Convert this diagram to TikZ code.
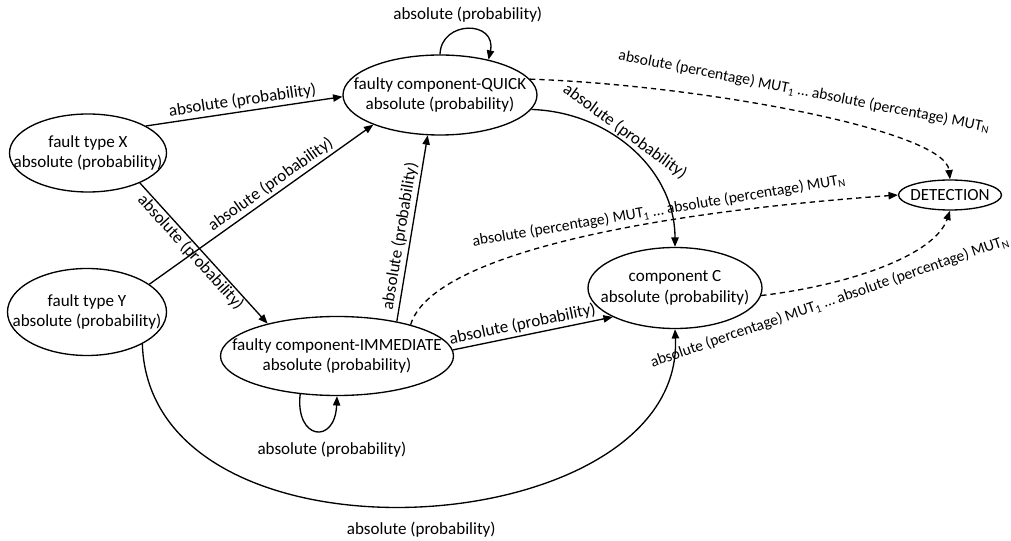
\documentclass[tikz,border=0pt]{standalone}
\usepackage{fontspec}
\setmainfont{Carlito}
\usetikzlibrary{shapes.geometric,arrows.meta}
\newcommand{\mutlabel}{absolute (percentage) MUT\textsubscript{1} … absolute (percentage) MUT\textsubscript{N}}
\begin{document}
\begin{tikzpicture}[x=0.75pt,y=-0.75pt,
  font=\fontsize{12.8}{15.5}\selectfont,
  state/.style={draw,ellipse,inner sep=0pt,line width=1pt},
  arr/.style={-{Triangle[length=7pt,width=5.5pt]},line width=1pt},
  darr/.style={arr,dash pattern=on 4pt off 3pt},
  lbl/.style={sloped,inner sep=2pt},
  mut/.style={font=\fontsize{11.7}{14}\selectfont}]
\useasboundingbox (0,0) rectangle (1011,541);

\node[state,minimum width=117.75pt,minimum height=58.5pt,label={[align=center]center:fault type X\\absolute (probability)}] (x) at (88,153) {};
\node[state,minimum width=119.25pt,minimum height=65.25pt,label={[align=center]center:fault type Y\\absolute (probability)}] (y) at (87,312) {};
\node[state,minimum width=145.5pt,minimum height=60pt,label={[align=center]center:faulty component-QUICK\\absolute (probability)}] (q) at (440,95) {};
\node[state,minimum width=174.75pt,minimum height=59.25pt,label={[align=center]center:faulty component-IMMEDIATE\\absolute (probability)}] (im) at (337,356) {};
\node[state,minimum width=130.5pt,minimum height=60.75pt,label={[align=center]center:component C\\absolute (probability)}] (c) at (675,288) {};
\node[state,minimum width=77.25pt,minimum height=22.5pt,label={center:DETECTION}] (d) at (950,195) {};

% solid edges
\draw[arr] (x.25) -- node[lbl,above] {absolute (probability)} (q.181);
\draw[arr] (y.24) -- node[lbl,above,pos=0.57] {absolute (probability)} (q.204);
\draw[arr] (x.-30) -- node[lbl,below=0pt,inner sep=0.5pt,pos=0.45] {absolute (probability)} (im.155);
\draw[arr] (im.30) -- node[lbl,above,pos=0.45] {absolute (probability)} (q.-107);
\draw[arr] (im.3) -- node[lbl,above,pos=0.45] {absolute (probability)} (c.205);
\draw[arr] (q.-9) .. controls (610,112) and (675,170) .. node[lbl,above,inner sep=1pt,pos=0.42] {absolute (probability)} (c.north);
\draw[arr] (q.90) .. controls (441,20) and (497,20) .. node[above=1.5pt] {absolute (probability)} (q.36);
\draw[arr] (im.226) .. controls (295,440) and (335,445) .. node[below=5pt,xshift=12pt] {absolute (probability)} (im.south);
\draw[arr] (y.-30) .. controls (150,580) and (685,545) .. node[below=8pt,xshift=4.5pt] {absolute (probability)} (c.south);

% dashed edges
\draw[darr] (q.10) .. controls (700,85) and (945,130) .. node[mut,above=7pt,rotate=-11,pos=0.5] {\mutlabel} (d.north);
\draw[darr] (im.23) .. controls (430,260) and (620,215) .. node[mut,lbl,above,inner sep=2.5pt,pos=0.68] {\mutlabel} (d.west);
\draw[darr] (c.-5) .. controls (850,285) and (935,255) .. node[mut,below=4pt,rotate=19,pos=0.28,xshift=-6pt] {\mutlabel} (d.south);
\end{tikzpicture}
\end{document}
